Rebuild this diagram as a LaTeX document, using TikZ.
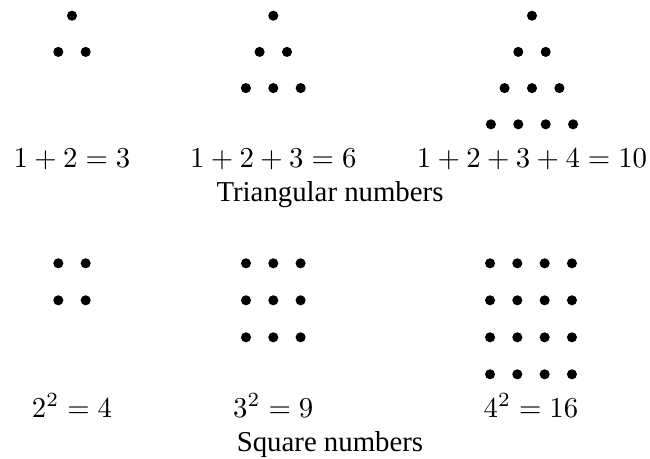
\documentclass[tikz,border=0pt]{standalone}
\usepackage{fontspec}
\setmainfont{Liberation Serif}
\begin{document}
\begin{tikzpicture}[x=0.3472pt,y=-0.3472pt,
  dot/.style={circle,fill=black,inner sep=0pt,minimum size=3.5pt},
  lbl/.style={anchor=base,inner sep=0pt}]
\useasboundingbox (0,0) rectangle (650,459);
% triangular numbers
\foreach \n/\cx in {2/72,3/273.3,4/532}{
  \foreach \r in {1,...,\n}{
    \foreach \i in {1,...,\r}{
      \node[dot] (t\n-\r-\i) at ({\cx+(\i-(\r+1)/2)*27.4},{15.7+(\r-1)*36.2}) {};
    }
  }
}
\node[lbl] (t2l) at (72,167) {$1+2=3$};
\node[lbl] (t3l) at (273.3,167) {$1+2+3=6$};
\node[lbl] (t4l) at (532,167) {$1+2+3+4=10$};
\node[lbl] (tcap) at (330,201) {Triangular numbers};
% square numbers
\foreach \n/\cx in {2/72,3/273.3,4/531}{
  \foreach \r in {1,...,\n}{
    \foreach \i in {1,...,\n}{
      \node[dot] (s\n-\r-\i) at ({\cx+(\i-(\n+1)/2)*27.3},{263.3+(\r-1)*37}) {};
    }
  }
}
\node[lbl] (s2l) at (72,417) {$2^2=4$};
\node[lbl] (s3l) at (273.3,417) {$3^2=9$};
\node[lbl] (s4l) at (531,417) {$4^2=16$};
\node[lbl] (scap) at (330,452) {Square numbers};
\end{tikzpicture}
\end{document}
